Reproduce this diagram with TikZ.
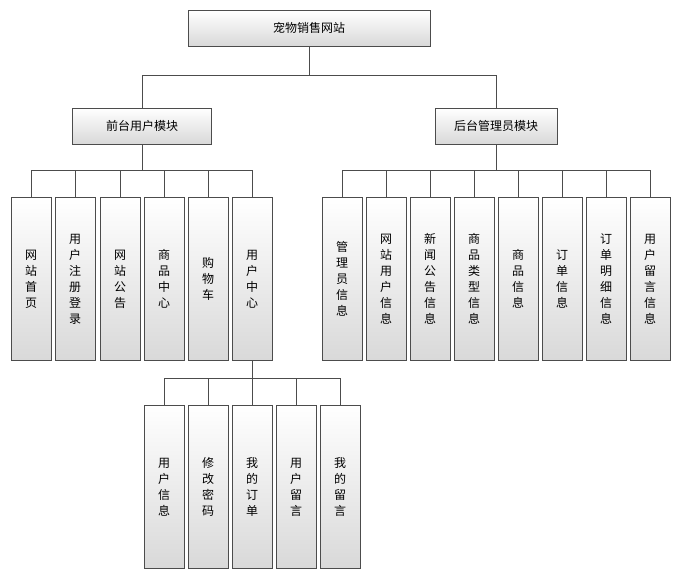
\documentclass[tikz,border=0pt]{standalone}
\usepackage{fontspec}
\setmainfont{Noto Sans CJK SC}
\usetikzlibrary{positioning}
\begin{document}
\begin{tikzpicture}[x=1pt,y=-1pt,
        box/.style={draw=black!70, top color=white, bottom color=black!15,
                    font=\fontsize{12}{16}\selectfont, inner sep=0pt},
        wide/.style={box, minimum width=#1, minimum height=36},
        leaf/.style={box, minimum width=40, minimum height=163,
                     text width=13, align=center},
        line/.style={draw=black!70}
                            ]
        \useasboundingbox (0,0) rectangle (680,575);
        % top levels
        \node[wide=242] (root) at (309,28) {宠物销售网站};
        \node[wide=139] (front) at (142,126) {前台用户模块};
        \node[wide=122] (back) at (496,126) {后台管理员模块};
        \draw[line] (root.south) -- (309,75) -| (front.north);
        \draw[line] (309,75) -| (back.north);
        % front leaves
        \foreach \n/\x/\t in {f1/31/网\\站\\首\\页, f2/75/用\\户\\注\\册\\登\\录,
                              f3/120/网\\站\\公\\告, f4/164/商\\品\\中\\心,
                              f5/208/购\\物\\车, f6/252/用\\户\\中\\心}
          {\node[leaf] (\n) at (\x,279) {\t};
           \draw[line] (\n.north) -- (\x,170);}
        \draw[line] (f1.north |- 0,170) -- (f6.north |- 0,170);
        \draw[line] (front.south) -- (142,170);
        % back leaves
        \foreach \n/\x/\t in {b1/342/管\\理\\员\\信\\息, b2/386/网\\站\\用\\户\\信\\息,
                              b3/430/新\\闻\\公\\告\\信\\息, b4/474/商\\品\\类\\型\\信\\息,
                              b5/518/商\\品\\信\\息, b6/562/订\\单\\信\\息,
                              b7/606/订\\单\\明\\细\\信\\息, b8/650/用\\户\\留\\言\\信\\息}
          {\node[leaf] (\n) at (\x,279) {\t};
           \draw[line] (\n.north) -- (\x,170);}
        \draw[line] (b1.north |- 0,170) -- (b8.north |- 0,170);
        \draw[line] (back.south) -- (496,170);
        % user centre
        \foreach \n/\x/\t in {u1/164/用\\户\\信\\息, u2/208/修\\改\\密\\码,
                              u3/252/我\\的\\订\\单, u4/296/用\\户\\留\\言,
                              u5/340/我\\的\\留\\言}
          {\node[leaf] (\n) at (\x,487) {\t};
           \draw[line] (\n.north) -- (\x,378);}
        \draw[line] (u1.north |- 0,378) -- (u5.north |- 0,378);
        \draw[line] (f6.south) -- (252,378);
    \end{tikzpicture}
\end{document}
